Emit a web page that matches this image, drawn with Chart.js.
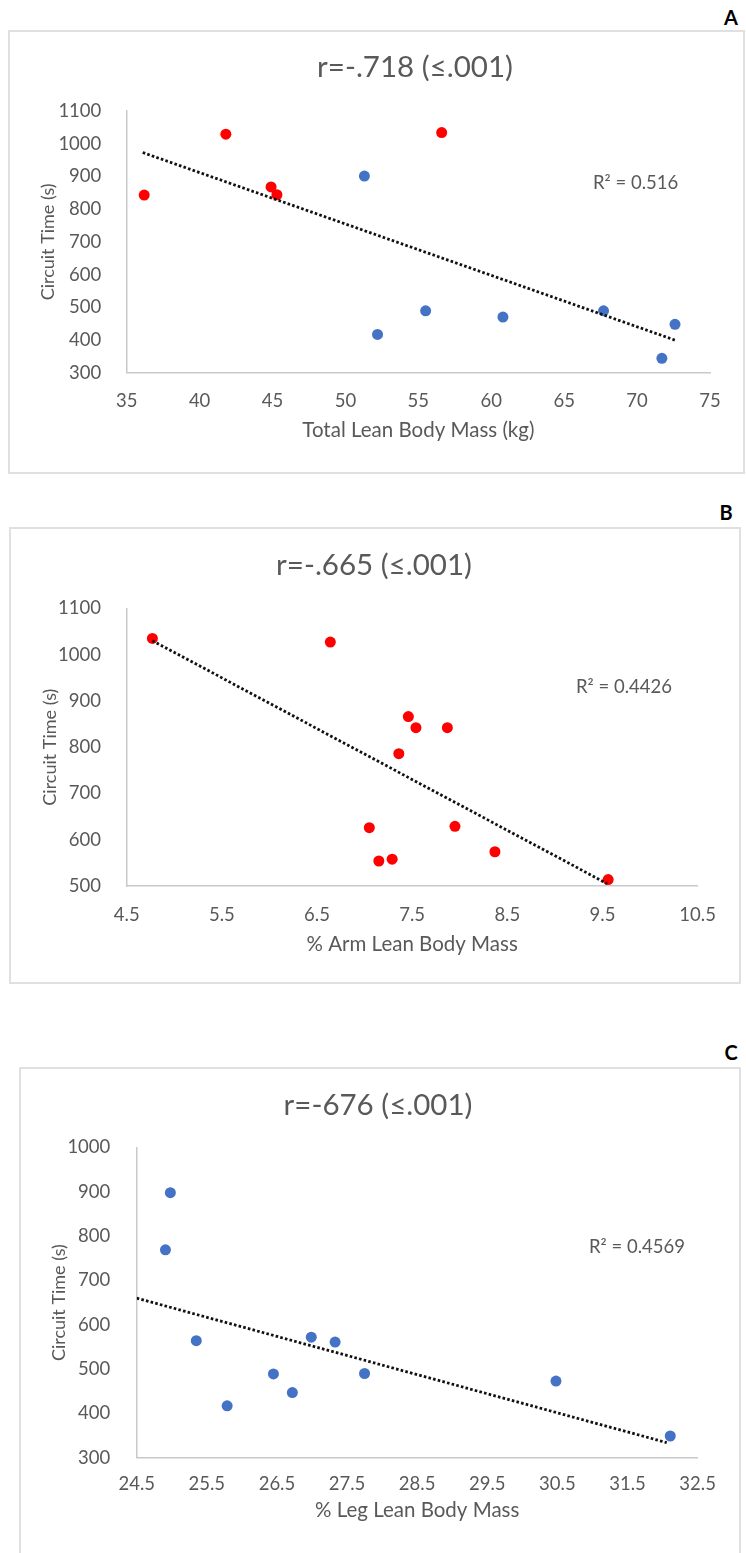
<!DOCTYPE html>
<html><head><meta charset="utf-8">
<script src="https://cdn.jsdelivr.net/npm/chart.js@4"></script>
<style>
html,body{margin:0;padding:0;background:#fff;}
body{position:relative;width:746px;height:1553px;overflow:hidden;font-family:Lato,"Open Sans",sans-serif;}
.box{position:absolute;border:2px solid #E0E0E0;box-sizing:border-box;}
.tag{position:absolute;font-weight:bold;font-size:20px;color:#000;transform:translate(-50%,-50%);line-height:1;font-family:Lato,sans-serif;}
canvas{position:absolute;left:0;}
</style></head><body>
<div class="box" style="left:8px;top:30px;width:737px;height:444px"></div>
<div class="box" style="left:9px;top:527px;width:732px;height:457px"></div>
<div class="box" style="left:19px;top:1067px;width:722px;height:500px"></div>
<div class="tag" style="left:731px;top:17px">A</div>
<div class="tag" style="left:726px;top:512px">B</div>
<div class="tag" style="left:731px;top:1052px">C</div>
<canvas id="cA" width="746" height="480" style="top:0px"></canvas>
<canvas id="cB" width="746" height="500" style="top:490px"></canvas>
<canvas id="cC" width="746" height="553" style="top:1000px"></canvas>
<script>
// ---- Panel A data ----
const titleA = "r=-.718 (\u2264.001)";
const r2A = "R\u00B2 = 0.516";
const xTitleA = "Total Lean Body Mass (kg)";
const xTicksA = [35, 40, 45, 50, 55, 60, 65, 70, 75];
const yTicksA = [300, 400, 500, 600, 700, 800, 900, 1000, 1100];
const redXA = [36.2, 41.8, 44.9, 45.3, 56.6];
const redYA = [843, 1029, 868, 844, 1034];
const blueXA = [51.3, 52.2, 55.5, 60.8, 67.7, 71.7, 72.6];
const blueYA = [901, 417, 489, 470, 489, 344, 448];
const trendXA = [36.1, 72.7];
const trendYA = [973, 398];

// ---- Panel B data ----
const titleB = "r=-.665 (\u2264.001)";
const r2B = "R\u00B2 = 0.4426";
const xTitleB = "% Arm Lean Body Mass";
const xTicksB = [4.5, 5.5, 6.5, 7.5, 8.5, 9.5, 10.5];
const yTicksB = [500, 600, 700, 800, 900, 1000, 1100];
const redXB = [4.77, 6.64, 7.46, 7.54, 7.87, 7.36, 7.05, 7.95, 7.15, 7.29, 8.37, 9.56];
const redYB = [1035, 1027, 866, 842, 842, 786, 626, 629, 554, 558, 574, 514];
const trendXB = [4.77, 9.55];
const trendYB = [1030, 505];

// ---- Panel C data ----
const titleC = "r=-676 (\u2264.001)";
const r2C = "R\u00B2 = 0.4569";
const xTitleC = "% Leg Lean Body Mass";
const xTicksC = [24.5, 25.5, 26.5, 27.5, 28.5, 29.5, 30.5, 31.5, 32.5];
const yTicksC = [300, 400, 500, 600, 700, 800, 900, 1000];
const blueXC = [24.98, 24.91, 25.35, 25.79, 26.45, 26.72, 26.99, 27.33, 27.75, 30.48, 32.11];
const blueYC = [898, 769, 564, 417, 489, 447, 572, 561, 490, 473, 349];
const trendXC = [24.5, 32.06];
const trendYC = [660, 334];

const yTitle = "Circuit Time (s)";

const FONT = 'Lato, "Open Sans", sans-serif';
const GREY = '#595959';
const RED = '#FF0000';
const BLUE = '#4472C4';
Chart.defaults.font.family = FONT;
Chart.defaults.color = GREY;

const zip = (xs, ys) => xs.map((x, i) => ({x: x, y: ys[i]}));

const textPlugin = {
  id: 'panelText',
  afterDraw(chart, args, o) {
    const ctx = chart.ctx;
    ctx.save();
    ctx.fillStyle = GREY;
    ctx.textBaseline = 'middle';
    ctx.font = '29.5px ' + FONT;
    ctx.textAlign = 'center';
    ctx.fillText(o.title, o.titleX, o.titleY);
    ctx.font = '18.5px ' + FONT;
    ctx.textAlign = 'left';
    ctx.fillText(o.r2, o.r2X, o.r2Y);
    ctx.restore();
  }
};

function pointSet(xs, ys, color) {
  return {type: 'scatter', data: zip(xs, ys), backgroundColor: color, borderWidth: 0,
          pointRadius: 5.5, pointHoverRadius: 5.5, order: 1};
}
function trendSet(xs, ys) {
  return {type: 'scatter', data: zip(xs, ys), showLine: true, borderColor: '#111111',
          borderWidth: 2.8, borderDash: [2.6, 2.2], pointRadius: 0, fill: false, order: 0};
}

function makePanel(id, p) {
  new Chart(document.getElementById(id), {
    type: 'scatter',
    data: {datasets: p.datasets},
    plugins: [textPlugin],
    options: {
      responsive: false, animation: false, devicePixelRatio: 1,
      layout: {padding: {top: p.padTop, right: p.padRight, left: 0, bottom: 0}},
      plugins: {
        legend: {display: false}, tooltip: {enabled: false},
        panelText: {title: p.title, titleX: p.titleX, titleY: p.titleY, r2: p.r2, r2X: p.r2X, r2Y: p.r2Y}
      },
      scales: {
        x: {
          type: 'linear', min: p.xTicks[0], max: p.xTicks[p.xTicks.length - 1],
          afterBuildTicks: s => { s.ticks = p.xTicks.map(v => ({value: v})); },
          afterFit: s => { s.height = p.xH; },
          grid: {display: false},
          border: {display: true, color: '#C9C9C9', width: 1.5},
          ticks: {color: GREY, font: {size: 18.5}, padding: p.xTickPad, maxRotation: 0, autoSkip: false,
                  callback: v => String(v)},
          title: {display: true, text: p.xTitle, color: GREY, font: {size: 20.5, lineHeight: 1},
                  padding: {top: 0, bottom: p.xTitlePad}}
        },
        y: {
          type: 'linear', min: p.yTicks[0], max: p.yTicks[p.yTicks.length - 1],
          afterBuildTicks: s => { s.ticks = p.yTicks.map(v => ({value: v})); },
          afterFit: s => { s.width = p.yW; },
          grid: {display: false},
          border: {display: true, color: '#C9C9C9', width: 1.5},
          ticks: {color: GREY, font: {size: 18.5}, padding: p.yTickPad, autoSkip: false,
                  callback: v => String(v)},
          title: {display: true, text: yTitle, color: GREY, font: {size: 18, lineHeight: 1},
                  padding: {top: p.yTitlePad, bottom: 0}}
        }
      }
    }
  });
}

makePanel('cA', {
  datasets: [trendSet(trendXA, trendYA), pointSet(redXA, redYA, RED), pointSet(blueXA, blueYA, BLUE)],
  xTicks: xTicksA, yTicks: yTicksA, xTitle: xTitleA,
  padTop: 111, padRight: 36, yW: 126.7, xH: 107.3,
  xTickPad: 9, yTickPad: 17.4, xTitlePad: 39, yTitlePad: 39,
  title: titleA, titleX: 415, titleY: 67, r2: r2A, r2X: 593, r2Y: 183
});
makePanel('cB', {
  datasets: [trendSet(trendXB, trendYB), pointSet(redXB, redYB, RED)],
  xTicks: xTicksB, yTicks: yTicksB, xTitle: xTitleB,
  padTop: 118.3, padRight: 48.4, yW: 126.7, xH: 104,
  xTickPad: 10, yTickPad: 17.7, xTitlePad: 35, yTitlePad: 41,
  title: titleB, titleX: 374, titleY: 75, r2: r2B, r2X: 576, r2Y: 196.7
});
makePanel('cC', {
  datasets: [trendSet(trendXC, trendYC), pointSet(blueXC, blueYC, BLUE)],
  xTicks: xTicksC, yTicks: yTicksC, xTitle: xTitleC,
  padTop: 147.5, padRight: 48.4, yW: 136.7, xH: 95.3,
  xTickPad: 7, yTickPad: 18.4, xTitlePad: 32.5, yTitlePad: 50.5,
  title: titleC, titleX: 378, titleY: 105, r2: r2C, r2X: 589, r2Y: 247
});
</script>
</body></html>
